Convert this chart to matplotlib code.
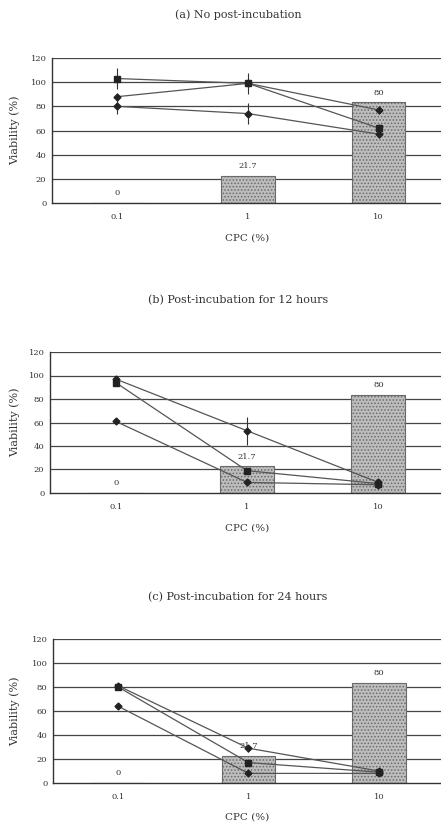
import matplotlib
matplotlib.use("Agg")
import matplotlib.pyplot as plt
import numpy as np

plt.rcParams['font.family'] = ['DejaVu Serif']
plt.rcParams['hatch.linewidth'] = 0.7

categories = ['0.1', '1', '10']
bar_values = [0, 21.7, 80]
bar_labels = ['0', '21.7', '80']

titles = ['(a) No post-incubation',
          '(b) Post-incubation for 12 hours',
          '(c) Post-incubation for 24 hours']

# three viability series per panel (squares, upper diamonds, lower diamonds)
a_sq = [103, 99, 62]
a_d1 = [88, 99, 77]
a_d2 = [80, 74, 57]
a_err_sq = [9, 9, 3]
a_err_d1 = [3, 3, 3]
a_err_d2 = [6, 9, 3]

b_sq = [94, 19, 8]
b_d1 = [97, 53, 9]
b_d2 = [61, 9, 7]
b_err_sq = [3, 2, 1]
b_err_d1 = [3, 12, 1]
b_err_d2 = [2, 2, 1]

c_sq = [80, 17, 9]
c_d1 = [81, 29, 10]
c_d2 = [64, 8, 8]
c_err_sq = [2, 3, 1]
c_err_d1 = [2, 3, 1]
c_err_d2 = [2, 2, 1]

panels = [
    (a_sq, a_d1, a_d2, a_err_sq, a_err_d1, a_err_d2),
    (b_sq, b_d1, b_d2, b_err_sq, b_err_d1, b_err_d2),
    (c_sq, c_d1, c_d2, c_err_sq, c_err_d1, c_err_d2),
]

W, H = 441, 826
fig = plt.figure(figsize=(W / 100, H / 100), dpi=100)

# pixel geometry: (top, bottom) of each plot area, title y, xlabel y
geom = [
    (58, 203, 15, 238),
    (352, 493, 300, 528),
    (639, 783, 597, 817),
]
left_px = [52, 50, 53]
right_px = 444

x = np.arange(len(categories))
for i, (p, g) in enumerate(zip(panels, geom)):
    top, bot, ty, xly = g
    L = left_px[i]
    rect = [L / W, 1 - bot / H, (right_px - L) / W, (bot - top) / H]
    ax = fig.add_axes(rect)
    ax.set_xlim(-0.5, 2.5)
    ax.set_ylim(0, 120)
    ax.set_yticks(np.arange(0, 121, 20))
    ax.set_xticks(x)
    ax.set_xticklabels(categories)
    ax.tick_params(axis='both', labelsize=6, length=0, pad=4, colors='#333333')
    ax.tick_params(axis='x', pad=7)
    ax.grid(axis='y', color='#444444', linewidth=0.9)
    ax.set_axisbelow(True)
    for s in ['top', 'right']:
        ax.spines[s].set_visible(False)
    for s in ['left', 'bottom']:
        ax.spines[s].set_color('#333333')
        ax.spines[s].set_linewidth(1.0)

    # bars live on a hidden secondary axis (scale 0-115)
    bx = ax.twinx()
    bx.set_ylim(0, 115)
    bx.set_xlim(-0.5, 2.5)
    bx.axis('off')
    bx.set_zorder(ax.get_zorder() - 1)
    ax.patch.set_visible(False)
    bx.bar(x, bar_values, width=0.41, facecolor='#bdbdbd',
           edgecolor='#6a6a6a', hatch='.....', linewidth=0.8, zorder=2)
    for xi, v, lab in zip(x, bar_values, bar_labels):
        bx.annotate(lab, (xi, v), xytext=(0, 4), textcoords='offset points',
                    ha='center', va='bottom', fontsize=6, color='#333333')
    # gridlines should sit under bars: redraw grid on background axis
    ax.grid(False)
    for yv in np.arange(20, 121, 20):
        bx.axhline(yv * 115 / 120, color='#444444', linewidth=0.9, zorder=1)

    sq, d1, d2, esq, ed1, ed2 = p
    for vals, err, mk, ms in [(sq, esq, 's', 4.5), (d1, ed1, 'D', 3.5), (d2, ed2, 'D', 3.5)]:
        ax.errorbar(x, vals, yerr=err, color='#555555', ecolor='#333333',
                    elinewidth=0.8, capsize=0, linewidth=0.9,
                    marker=mk, markersize=ms, markerfacecolor='#222222',
                    markeredgecolor='#222222', zorder=3)

    fig.text(0.54, 1 - ty / H, titles[i], ha='center', va='center',
             fontsize=8, color='#333333')
    fig.text(247 / W, 1 - xly / H, 'CPC (%)', ha='center', va='center',
             fontsize=7.5, color='#333333')
    fig.text(15 / W, 1 - (top + bot) / 2 / H, 'Viability (%)', ha='center',
             va='center', rotation=90, fontsize=8, color='#333333')

fig.savefig('out.png', dpi=100, facecolor='white')
